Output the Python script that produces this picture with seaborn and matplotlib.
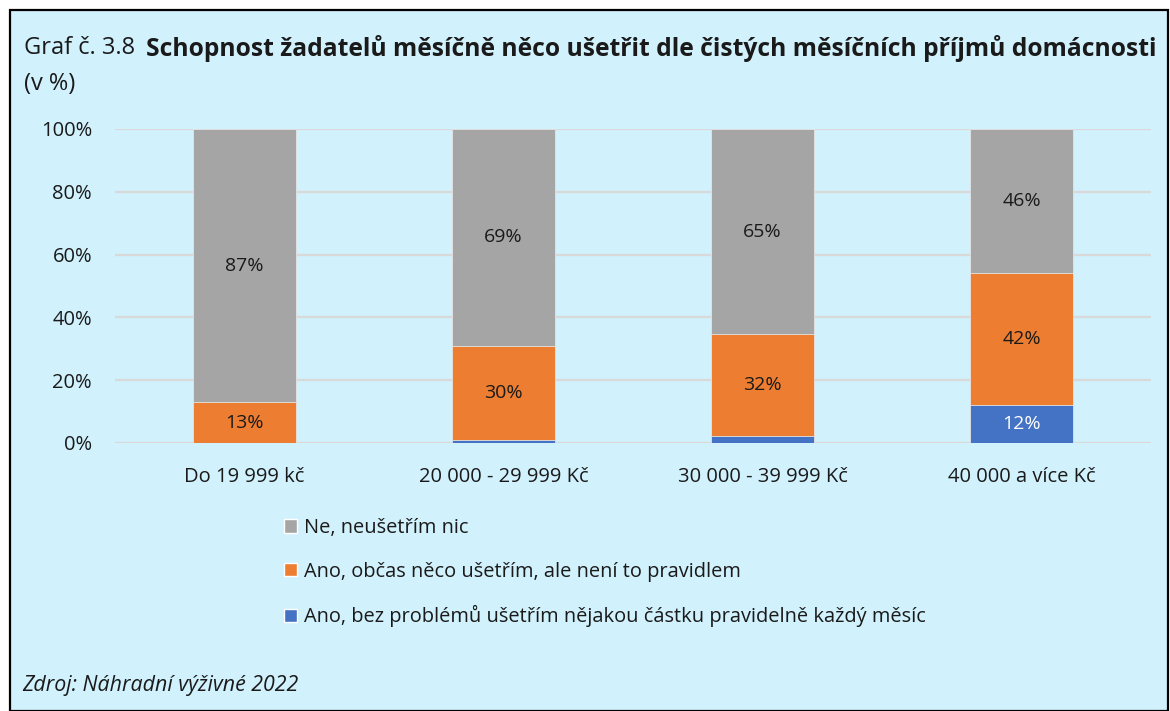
import matplotlib
matplotlib.use("Agg")
import matplotlib.pyplot as plt
from matplotlib.patches import Patch, Rectangle
import numpy as np
import pandas as pd
import seaborn as sns

CATEGORIES = ["Do 19 999 kč", "20 000 - 29 999 Kč", "30 000 - 39 999 Kč", "40 000 a více Kč"]
SERIES = [
    "Ne, neušetřím nic",
    "Ano, občas něco ušetřím, ale není to pravidlem",
    "Ano, bez problémů ušetřím nějakou částku pravidelně každý měsíc",
]
NE = [87, 69, 65.3, 46]
OBCAS = [13, 30, 32.4, 42]
PRAVIDELNE = [0, 1, 2.3, 12]
LABEL_PRAVIDELNE = [None, None, None, "12%"]

BG = "#D1F1FC"
COLORS = {"ne": "#A5A5A5", "obcas": "#ED7D31", "prav": "#4472C4"}
FONT = ["Open Sans", "DejaVu Sans"]
TXT = "#1a1a1a"

sns.set_theme(style="white")
plt.rcParams["font.family"] = FONT

df = pd.DataFrame({"kat": CATEGORIES, "ne": NE, "obcas": OBCAS, "prav": PRAVIDELNE})
df["top_prav"] = df["prav"]
df["top_obcas"] = df["prav"] + df["obcas"]
df["top_ne"] = df["top_obcas"] + df["ne"]

fig = plt.figure(figsize=(11.7, 7.11), dpi=100, facecolor="white")
fig.patches.append(Rectangle((10 / 1170, 0), 1158 / 1170, 701 / 711, transform=fig.transFigure,
                             facecolor=BG, edgecolor="black", linewidth=1.6, zorder=-5))

ax = fig.add_axes([115 / 1170, 1 - 443 / 711, 1036 / 1170, 314 / 711])
ax.set_facecolor("none")

# stacked look: draw cumulative tops from back to front
for col, color in [("top_ne", COLORS["ne"]), ("top_obcas", COLORS["obcas"]), ("top_prav", COLORS["prav"])]:
    sns.barplot(data=df, x="kat", y=col, color=color, width=0.4, saturation=1,
                edgecolor="#E4E4E4", linewidth=0.6, ax=ax, zorder=3)

x = np.arange(len(CATEGORIES))
for i in x:
    ax.text(i, df["top_obcas"][i] + df["ne"][i] / 2, f"{NE[i]:.0f}%", ha="center", va="center",
            fontsize=14, color=TXT, zorder=5)
    ax.text(i, df["prav"][i] + df["obcas"][i] / 2, f"{OBCAS[i]:.0f}%", ha="center", va="center",
            fontsize=14, color=TXT, zorder=5)
    if LABEL_PRAVIDELNE[i]:
        ax.text(i, df["prav"][i] / 2, LABEL_PRAVIDELNE[i], ha="center", va="center",
                fontsize=14, color="white", zorder=5)

ax.set_ylim(0, 100)
ax.set_xlim(-0.5, len(CATEGORIES) - 0.5)
ax.set_yticks(range(0, 101, 20))
ax.set_yticklabels([f"{v}%" for v in range(0, 101, 20)])
ax.yaxis.grid(True, color="#D9D9D9", linewidth=1.6, zorder=1)
ax.set_axisbelow(True)
for s in ax.spines.values():
    s.set_visible(False)
ax.tick_params(axis="both", length=0, labelsize=14.5, colors=TXT)
ax.tick_params(axis="y", pad=16.5)
ax.tick_params(axis="x", pad=17)
ax.set_xlabel("")
ax.set_ylabel("")

# title: normal prefix + bold rest
t1 = fig.text(24 / 1170, 1 - 48 / 711, "Graf č. 3.8 ", fontsize=17, va="center", color=TXT)
fig.canvas.draw()
bb = t1.get_window_extent()
fig.text((bb.x1 + 5) / 1170, 1 - 48 / 711, "Schopnost žadatelů měsíčně něco ušetřit dle čistých měsíčních příjmů domácnosti",
         fontsize=17.7, fontweight="bold", va="center", color=TXT)
fig.text(24 / 1170, 1 - 84 / 711, "(v %)", fontsize=17, va="center", color=TXT)

handles = [Patch(facecolor=COLORS["ne"]), Patch(facecolor=COLORS["obcas"]), Patch(facecolor=COLORS["prav"])]
fig.legend(handles, SERIES, loc="upper left", bbox_to_anchor=(284 / 1170, 1 - 518 / 711),
           frameon=False, fontsize=14.4, handlelength=0.65, handleheight=0.65, handletextpad=0.35,
           labelspacing=1.18, borderaxespad=0, borderpad=0, labelcolor=TXT)

fig.text(22 / 1170, 1 - 685 / 711, "Zdroj: Náhradní výživné 2022", fontsize=15.4, style="italic",
         va="center", color=TXT)

fig.savefig("out.png", dpi=100, facecolor="white")
